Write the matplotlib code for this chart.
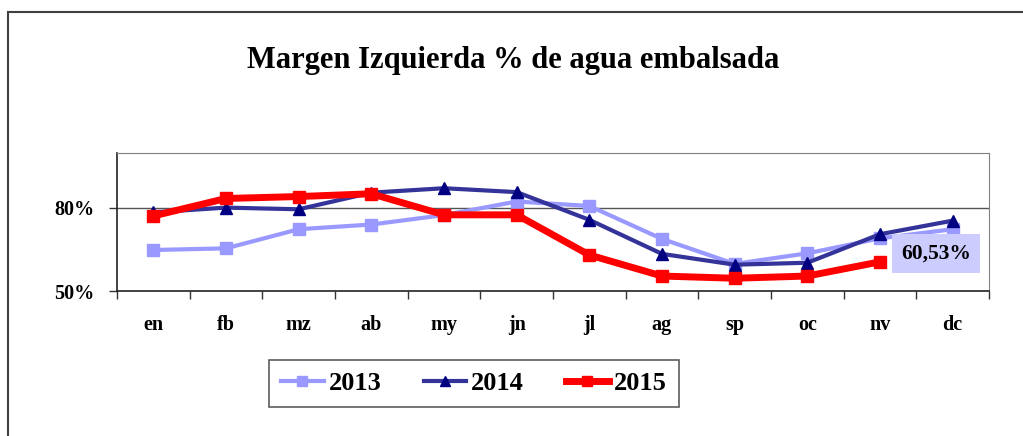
import numpy as np
import matplotlib
matplotlib.use('Agg')
import matplotlib.pyplot as plt
from matplotlib.patches import Rectangle
from matplotlib.ticker import FixedLocator, NullFormatter

months = ['en', 'fb', 'mz', 'ab', 'my', 'jn', 'jl', 'ag', 'sp', 'oc', 'nv', 'dc']
y2013 = [64.8, 65.4, 72.3, 74.0, 77.4, 82.3, 80.7, 68.8, 59.8, 63.6, 69.0, 72.3]
y2014 = [78.4, 80.1, 79.5, 85.5, 87.1, 85.7, 75.7, 63.4, 59.5, 60.2, 70.5, 75.4]
y2015 = [77.1, 83.4, 84.1, 85.1, 77.5, 77.5, 63.0, 55.4, 54.6, 55.4, 60.53]
yticks = [50, 80]
title = 'Margen Izquierda % de agua embalsada'
label_2015 = '60,53%'

plt.rcParams['font.family'] = ['Liberation Serif', 'DejaVu Serif']
plt.rcParams['font.weight'] = 'bold'

W, H = 1023, 436
fig = plt.figure(figsize=(W / 100, H / 100), dpi=100)

# chart border (cut off at right and bottom like the reference)
fig.patches.append(Rectangle((8 / W, -0.05), 1.1, 1 - 12 / H + 0.05,
                             transform=fig.transFigure, fill=False,
                             edgecolor='#404040', linewidth=1.5))

ax = fig.add_axes([117 / W, 1 - 291 / H, (989 - 117) / W, (291 - 152.5) / H])

x = np.arange(len(months))
ax.plot(x, y2013, color='#9999FF', lw=3, marker='s', ms=9, mec='#9999FF',
        mfc='#9999FF', label='2013', zorder=3)
ax.plot(x, y2014, color='#333399', lw=3, marker='^', ms=9, mec='#000080',
        mfc='#000080', label='2014', zorder=4)
ax.plot(x[:len(y2015)], y2015, color='#FF0000', lw=5, marker='s', ms=9,
        mec='#FF0000', mfc='#FF0000', label='2015', zorder=5)

ax.set_xlim(-0.5, len(months) - 0.5)
ax.set_ylim(50, 100)
ax.set_yticks(yticks)
ax.set_yticklabels([f'{v}%' for v in yticks], fontsize=14.5, fontweight='bold')
ax.xaxis.set_major_locator(FixedLocator(np.arange(-0.5, len(months), 1)))
ax.xaxis.set_major_formatter(NullFormatter())
ax.xaxis.set_minor_locator(FixedLocator(x))
ax.set_xticklabels(months, minor=True, fontsize=14.5, fontweight='bold')
ax.tick_params(axis='x', which='major', direction='out', length=6, width=1, color='#333333')
ax.tick_params(axis='x', which='minor', length=0, pad=17)
ax.tick_params(axis='y', direction='out', length=6, width=1, color='#333333', pad=10)
ax.axhline(80, color='#555555', lw=1, zorder=1)
for s in ['top', 'right']:
    ax.spines[s].set_color('#808080')
for s in ['left', 'bottom']:
    ax.spines[s].set_color('#222222')
    ax.spines[s].set_linewidth(1.2)

ax.annotate(label_2015, xy=(len(y2015) - 1, y2015[-1]), xytext=(15, 6),
            textcoords='offset points', ha='left', va='center',
            fontsize=15.5, fontweight='bold',
            bbox=dict(boxstyle='square,pad=0.42', fc='#CCCCFF', ec='none'))

fig.text(513 / W, 1 - 60 / H, title, ha='center', va='center',
         fontsize=22, fontweight='bold')

leg = fig.legend(loc='center', bbox_to_anchor=(474 / W, 1 - 383.5 / H), ncol=3,
                 fontsize=19, frameon=True, fancybox=False, edgecolor='#333333',
                 handlelength=1.6, handletextpad=0.2, columnspacing=1.6,
                 borderpad=0.45, borderaxespad=0, markerscale=0.8)
leg.get_frame().set_linewidth(1.2)

fig.savefig('out.png', dpi=100)
